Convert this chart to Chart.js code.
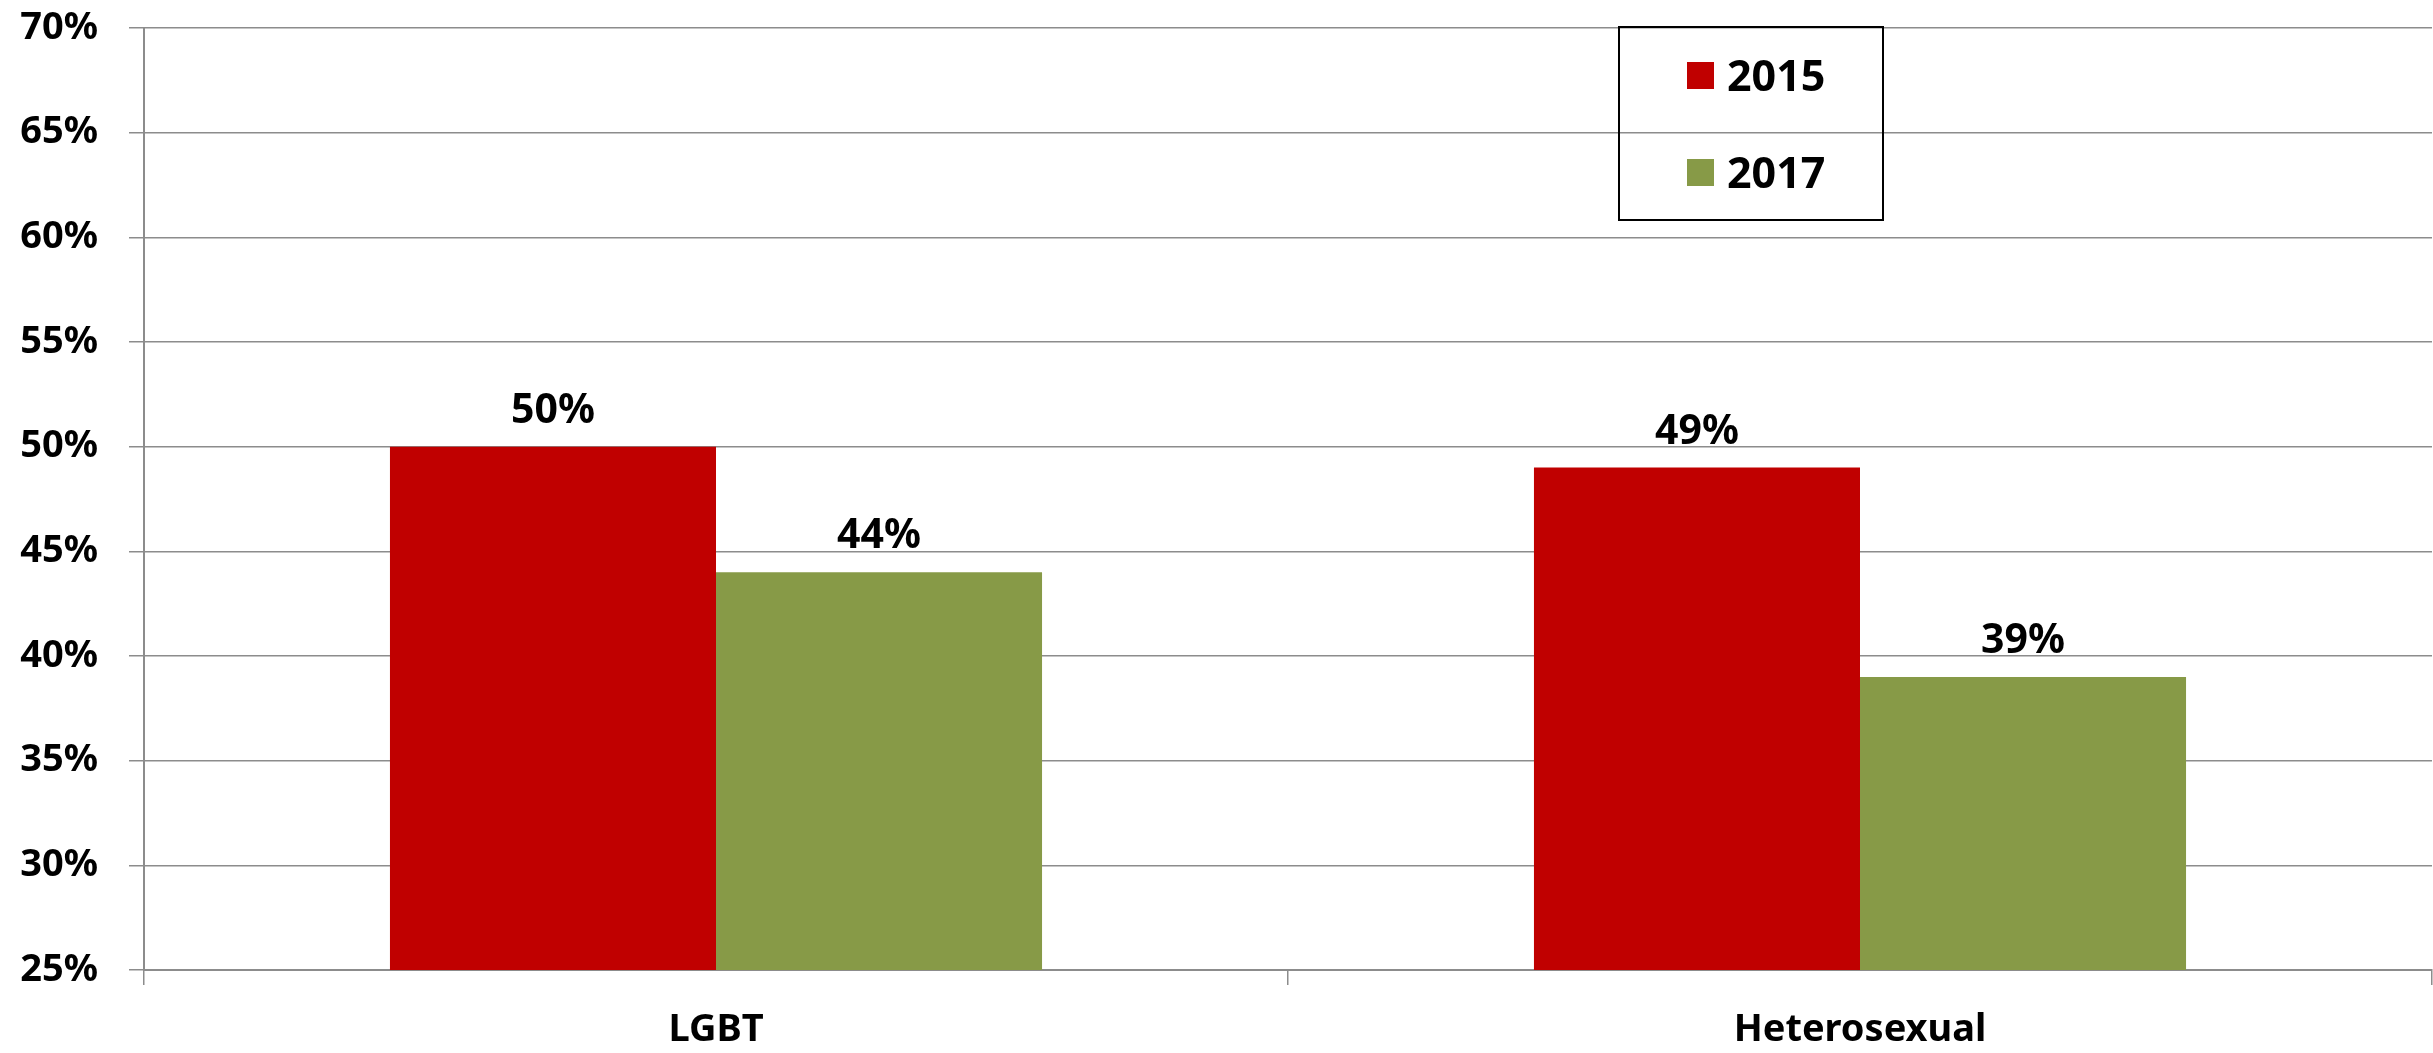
<!DOCTYPE html>
<html>
<head>
<meta charset="utf-8">
<script src="https://cdn.jsdelivr.net/npm/chart.js@4"></script>
<style>
  html, body { margin: 0; padding: 0; background: #ffffff; }
  #wrap { width: 2433px; height: 1053px; position: relative; }
</style>
</head>
<body>
<div id="wrap"><canvas id="c" width="2433" height="1053"></canvas></div>
<script>
const categories = ["LGBT", "Heterosexual"];
const seriesNames = ["2015", "2017"];
const values2015 = [50, 49];
const values2017 = [44, 39];
const seriesColors = ["#C00000", "#879A47"];
const yMin = 25, yMax = 70, yStep = 5;

const FONT = "'Noto Sans', 'DejaVu Sans', sans-serif";

const dataLabelPlugin = {
  id: 'dataLabels',
  afterDatasetsDraw(chart) {
    const ctx = chart.ctx;
    ctx.save();
    ctx.font = "bold 41px " + FONT;
    ctx.fillStyle = "#000";
    ctx.textAlign = "center";
    ctx.textBaseline = "alphabetic";
    chart.data.datasets.forEach((ds, i) => {
      chart.getDatasetMeta(i).data.forEach((bar, j) => {
        ctx.fillText(ds.data[j] + "%", bar.x, bar.y - 24);
      });
    });
    ctx.restore();
  }
};

const boxLegendPlugin = {
  id: 'boxLegend',
  afterDraw(chart) {
    const ctx = chart.ctx;
    const bx = 1619, by = 27, bw = 264, bh = 193;
    ctx.save();
    ctx.strokeStyle = "#000";
    ctx.lineWidth = 2;
    ctx.strokeRect(bx, by, bw, bh);
    ctx.font = "bold 43px " + FONT;
    ctx.textAlign = "left";
    ctx.textBaseline = "alphabetic";
    const rows = [75.5, 172.5];
    chart.data.datasets.forEach((ds, i) => {
      const cy = rows[i];
      ctx.fillStyle = ds.backgroundColor;
      ctx.fillRect(1687, cy - 13.5, 27, 27);
      ctx.fillStyle = "#000";
      ctx.fillText(ds.label, 1727, cy + 15);
    });
    ctx.restore();
  }
};

new Chart(document.getElementById('c'), {
  type: 'bar',
  data: {
    labels: categories,
    datasets: [
      { label: seriesNames[0], data: values2015, backgroundColor: seriesColors[0], borderWidth: 0 },
      { label: seriesNames[1], data: values2017, backgroundColor: seriesColors[1], borderWidth: 0 }
    ]
  },
  options: {
    responsive: false,
    animation: false,
    devicePixelRatio: 1,
    categoryPercentage: 0.57,
    barPercentage: 1.0,
    layout: { padding: { top: 28, right: 1, bottom: 0, left: 0 } },
    plugins: {
      legend: { display: false },
      tooltip: { enabled: false },
      title: { display: false }
    },
    scales: {
      x: {
        grid: { display: true, drawOnChartArea: false, offset: true, tickLength: 15, color: "#8c8c8c", lineWidth: 1.5 },
        border: { display: true, color: "#8c8c8c", width: 2 },
        ticks: { color: "#000", font: { family: FONT, size: 38, weight: "bold" }, padding: 22, maxRotation: 0 },
        afterFit(scale) { scale.height = 83; scale.paddingLeft = 0; scale.paddingRight = 0; }
      },
      y: {
        min: yMin, max: yMax,
        grid: { color: "#8c8c8c", lineWidth: 1.5, tickLength: 15 },
        border: { display: true, color: "#8c8c8c", width: 2 },
        ticks: {
          stepSize: yStep, color: "#000", padding: 31,
          font: { family: FONT, size: 38, weight: "bold" },
          callback: (v) => v + "%"
        },
        afterFit(scale) { scale.width = 144; scale.paddingTop = 0; scale.paddingBottom = 0; }
      }
    }
  },
  plugins: [dataLabelPlugin, boxLegendPlugin]
});
</script>
</body>
</html>
